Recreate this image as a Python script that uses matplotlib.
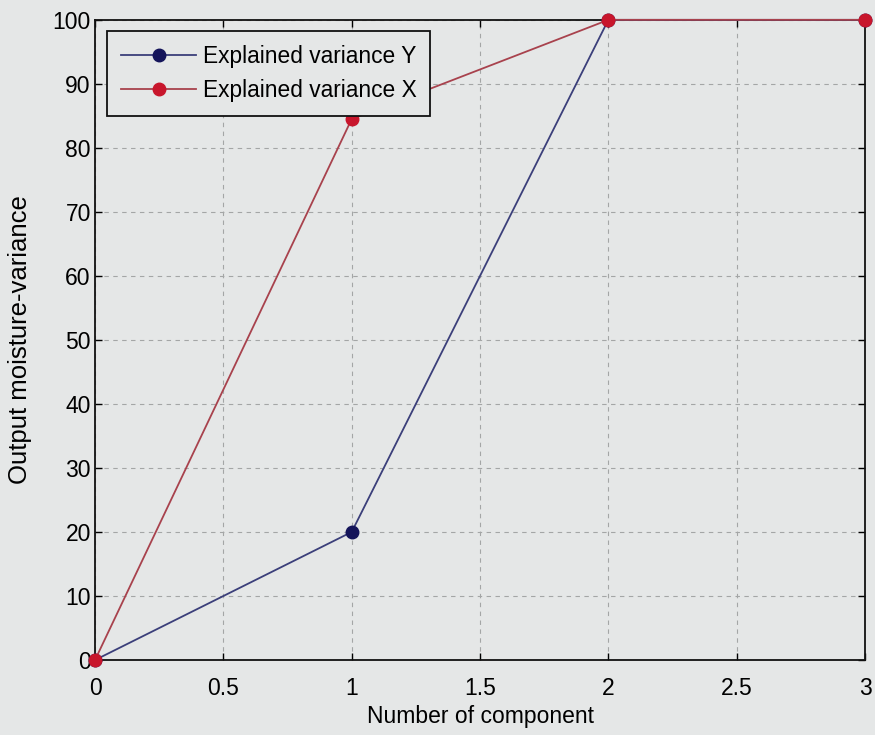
import matplotlib
matplotlib.use("Agg")
import matplotlib.pyplot as plt

# Cumulative explained variance (%) per number of PLS components
components = [0, 1, 2, 3]
var_y = [0, 20, 100, 100]
var_x = [0, 84.5, 100, 100]

xticks = [0, 0.5, 1, 1.5, 2, 2.5, 3]
yticks = list(range(0, 101, 10))

bg = "#e5e7e7"
plt.rcParams["font.family"] = ["Liberation Sans", "DejaVu Sans"]

fig = plt.figure(figsize=(8.75, 7.35), dpi=100, facecolor=bg)
ax = fig.add_axes([0.1086, 0.102, 0.88, 0.871], facecolor=bg)

ax.plot(components, var_y, "-o", color="#3b3f7a", lw=1.3,
        markerfacecolor="#14145a", markeredgecolor="#14145a", markersize=9,
        clip_on=False, zorder=3, label="Explained variance Y")
ax.plot(components, var_x, "-o", color="#a8424d", lw=1.3,
        markerfacecolor="#c8162c", markeredgecolor="#c8162c", markersize=9,
        clip_on=False, zorder=4, label="Explained variance X")

ax.set_xlim(0, 3)
ax.set_ylim(0, 100)
ax.set_xticks(xticks)
ax.set_xticklabels(["0", "0.5", "1", "1.5", "2", "2.5", "3"])
ax.set_yticks(yticks)

ax.grid(True, linestyle=(0, (4, 4)), color="#a4a6a6", linewidth=0.8)
ax.tick_params(direction="in", top=True, right=True, length=5, width=1,
               labelsize=16.5, pad=3)
ax.tick_params(axis="x", pad=12)
for s in ax.spines.values():
    s.set_linewidth(1.3)
    s.set_color("#111111")

ax.set_xlabel("Number of component", fontsize=16.5, labelpad=4)
ax.set_ylabel("Output moisture-variance", fontsize=18.5, labelpad=15)

leg = ax.legend(loc="upper left", bbox_to_anchor=(0.016, 0.982), fontsize=16.4,
                handlelength=3.3, fancybox=False, framealpha=1,
                facecolor=bg, edgecolor="#111111", borderpad=0.6,
                labelspacing=0.5, handletextpad=0.3, borderaxespad=0)
leg.get_frame().set_linewidth(1.3)

fig.savefig("out.png", dpi=100, facecolor=bg)
